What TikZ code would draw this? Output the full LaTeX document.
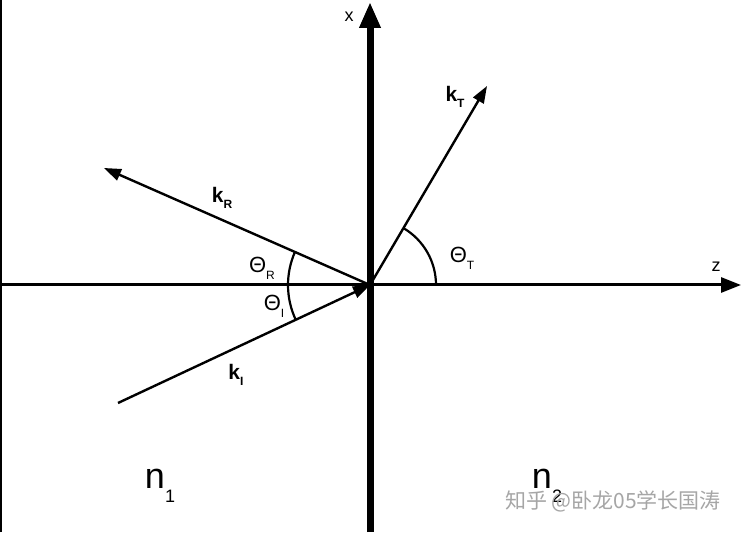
\documentclass[tikz,border=0pt]{standalone}
\usepackage{fontspec}
\setmainfont{Liberation Sans}
\newfontfamily\cjkfont{Noto Sans CJK SC}
\usetikzlibrary{arrows.meta, positioning, calc}
\newcommand{\lowidx}[2]{\raisebox{-#1}{\fontsize{12}{12}\selectfont #2}}
\tikzset{
	x=1pt, y=1pt,
	thickaxis/.style={line width=7pt, -{Triangle[length=26pt, width=20pt]}},
	axis/.style={line width=3pt, -{Triangle[length=20pt, width=15pt]}},
	wave/.style={line width=2.4pt, -{Triangle[length=17pt, width=12pt]}},
	anglearc/.style={line width=2.2pt},
	axislabel/.style={font=\fontsize{18}{18}\selectfont},
	veclabel/.style={font=\fontsize{21}{21}\selectfont\bfseries},
	anglabel/.style={font=\fontsize{22}{22}\selectfont},
	medium/.style={font=\fontsize{36}{36}\selectfont},
}

\begin{document}
\begin{tikzpicture}
	\useasboundingbox (0,0) rectangle (743,532);
	\fill[white] (0,0) rectangle (743,532);
	\draw[line width=1.5pt] (0.75,0) -- (0.75,532);

	\coordinate (O) at (370,247);
	\coordinate (BOTTOM) at (370,0);
	\coordinate (XTIP) at (370,530);
	\coordinate (LEFT) at (0,247);
	\coordinate (ZTIP) at (741,247);
	\coordinate (KTTIP) at (487,446);
	\coordinate (KRTIP) at (104,364);
	\coordinate (KISTART) at (118,129);

	% axes
	\draw[axis] (LEFT) -- (ZTIP);
	\draw[thickaxis] (BOTTOM) -- (XTIP);
	\node[axislabel] (XLABEL) at (349,515) {x};
	\node[axislabel] (ZLABEL) at (716,265) {z};

	% wave vectors
	\draw[wave] (O) -- (KTTIP);
	\draw[wave] (O) -- (KRTIP);
	\draw[wave] (KISTART) -- (O);
	\node[veclabel] (KT) at (455,435) {k\lowidx{6pt}{\textbf{T}}};
	\node[veclabel] (KR) at (222,334) {k\lowidx{6pt}{\textbf{R}}};
	\node[veclabel] (KI) at (236,157) {k\lowidx{6pt}{\textbf{I}}};

	% angles
	\draw[anglearc] ($(O)+(156.3:82)$) arc[start angle=156.3, end angle=180, radius=82];
	\draw[anglearc] ($(O)+(180:82)$) arc[start angle=180, end angle=205.1, radius=82];
	\draw[anglearc] ($(O)+(0:66)$) arc[start angle=0, end angle=59.5, radius=66];
	\node[anglabel] (THR) at (262,264) {Θ\lowidx{7pt}{R}};
	\node[anglabel] (THI) at (274,226) {Θ\lowidx{7pt}{I}};
	\node[anglabel] (THT) at (462,274) {Θ\lowidx{7pt}{T}};

	% media
	\node[medium] (N1) at (160,46) {n\lowidx{14pt}{\fontsize{18}{18}\selectfont 1}};
	\node[medium] (N2) at (547,46) {n\lowidx{14pt}{\fontsize{18}{18}\selectfont 2}};
	\node[font=\fontsize{21}{21}\cjkfont, text=black!35] (MARK) at (613,31) {知乎 @卧龙05学长国涛};
\end{tikzpicture}
\end{document}
